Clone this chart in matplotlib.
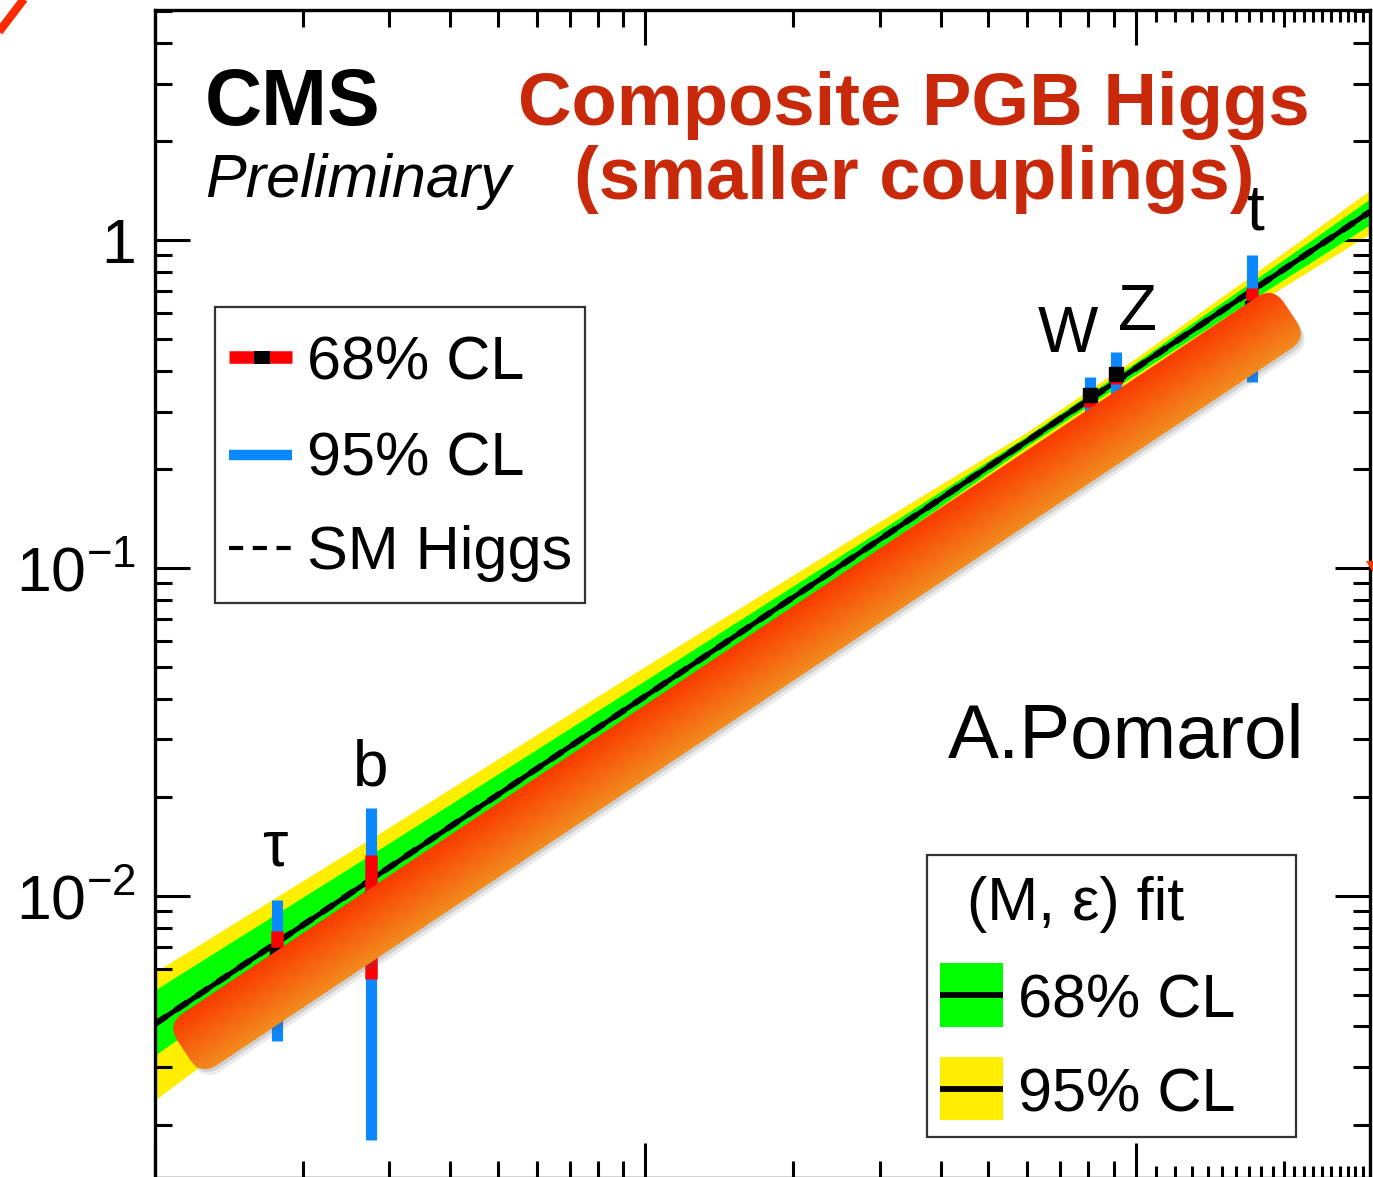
import numpy as np
import matplotlib
matplotlib.use('Agg')
import matplotlib.pyplot as plt
from matplotlib.patches import Rectangle, FancyBboxPatch, Polygon
from matplotlib.transforms import Affine2D
from matplotlib.ticker import FixedLocator, FixedFormatter, NullFormatter

plt.rcParams['font.family'] = ['Liberation Sans', 'DejaVu Sans']
plt.rcParams['mathtext.fontset'] = 'custom'
plt.rcParams['mathtext.rm'] = 'Liberation Sans'
plt.rcParams['mathtext.it'] = 'Liberation Sans:italic'
plt.rcParams['mathtext.bf'] = 'Liberation Sans:bold'

W, H = 1373, 1177

# measured couplings per particle
particles = ['τ', 'b', 'W', 'Z', 't']
masses = [1.777, 2.76, 80.4, 91.2, 172.5]
central = [6.6e-3, 9.8e-3, 0.337, 0.390, 0.62]
lo68 = [6.0e-3, 5.6e-3, 0.31, 0.365, 0.55]
hi68 = [7.8e-3, 1.33e-2, 0.345, 0.40, 0.715]
lo95 = [3.6e-3, 1.8e-3, 0.28, 0.33, 0.37]
hi95 = [9.7e-3, 1.85e-2, 0.382, 0.456, 0.90]

# (M, eps) fit band
band_mass = [1, 3, 10, 30, 60, 100, 200, 300]
fit_central = [4.07e-3, 1.22e-2, 4.07e-2, 0.122, 0.244, 0.407, 0.813, 1.22]
green_lo = [3.27e-3, 1.025e-2, 3.64e-2, 0.1146, 0.2355, 0.390, 0.758, 1.114]
green_hi = [5.17e-3, 1.45e-2, 4.55e-2, 0.130, 0.253, 0.4245, 0.872, 1.336]
yellow_lo = [2.39e-3, 8.1e-3, 3.07e-2, 0.1046, 0.2275, 0.379, 0.721, 1.045]
yellow_hi = [5.86e-3, 1.62e-2, 5.02e-2, 0.1385, 0.260, 0.437, 0.916, 1.42]

# SM Higgs line
sm_mass = [1, 300]
sm_coupling = [4.07e-3, 1.22]

fig = plt.figure(figsize=(13.73, 11.77), dpi=100)
fig.patch.set_facecolor('white')
ax = fig.add_axes([155 / W, -1 / H, (1370 - 155) / W, (1178 - 10) / H])
ax.set_xscale('log')
ax.set_yscale('log')
ax.set_xlim(1, 300)
ax.set_ylim(1.38e-3, 5.03)

ax.fill_between(band_mass, yellow_lo, yellow_hi, color='#FFEE00', lw=0, zorder=1)
ax.fill_between(band_mass, green_lo, green_hi, color='#00FF00', lw=0, zorder=2)
ax.plot(band_mass, fit_central, color='k', lw=3.6, zorder=3)
ax.plot(sm_mass, sm_coupling, color='k', lw=4.4, ls=(0, (2.3, 1.8)), zorder=3)

ax.vlines(masses, lo95, hi95, colors='#0A88FF', lw=8, zorder=4)
ax.vlines(masses, lo68, hi68, colors='#FF0000', lw=9, zorder=5)
ax.plot(masses, central, 's', color='k', ms=10, zorder=6)

for s in ax.spines.values():
    s.set_linewidth(2.4)

ax.xaxis.set_major_locator(FixedLocator([1, 10, 100]))
ax.xaxis.set_minor_locator(FixedLocator([2, 3, 4, 5, 6, 7, 8, 9,
                                         20, 30, 40, 50, 60, 70, 80, 90, 200]))
ax.xaxis.set_major_formatter(NullFormatter())
ax.xaxis.set_minor_formatter(NullFormatter())
ax.yaxis.set_major_locator(FixedLocator([1e-2, 1e-1, 1]))
ax.yaxis.set_major_formatter(FixedFormatter([r'$\mathregular{10^{-2}}$',
                                             r'$\mathregular{10^{-1}}$', '1']))
ax.yaxis.set_minor_locator(FixedLocator(
    [k * 10.0 ** e for e in (-3, -2, -1, 0) for k in range(2, 10)]))
ax.yaxis.set_minor_formatter(NullFormatter())
ax.tick_params(which='major', direction='in', length=25, width=2.2,
               top=True, right=True, labelsize=45, pad=14)
ax.tick_params(which='minor', direction='in', length=12.2, width=2.2,
               top=True, right=True)

# fine ticks above 100 GeV
fine = [110, 120, 130, 140, 150, 160, 170, 180, 190,
        210, 220, 230, 240, 250, 260, 270, 280, 290]
fl = 12 / 1168
ax.vlines(fine, 0, fl, transform=ax.get_xaxis_transform(), colors='k', lw=2.2, clip_on=False)
ax.vlines(fine, 1 - fl, 1, transform=ax.get_xaxis_transform(), colors='k', lw=2.2, clip_on=False)

# overlay in pixel coordinates
ov = fig.add_axes([0, 0, 1, 1])
ov.set_xlim(0, W)
ov.set_ylim(H, 0)
ov.axis('off')

ov.text(205, 125, 'CMS', fontsize=57, fontweight='bold', va='baseline')
ov.text(205, 197, 'Preliminary', fontsize=44, fontstyle='italic', va='baseline')
ov.text(914, 125, 'Composite PGB Higgs', fontsize=53.5, fontweight='bold',
        color='#C8290A', ha='center', va='baseline')
ov.text(914, 199, '(smaller couplings)', fontsize=53.5, fontweight='bold',
        color='#C8290A', ha='center', va='baseline')
ov.text(948, 758, 'A.Pomarol', fontsize=55, va='baseline')

label_pos = [(275, 866), (371, 785), (1068, 352), (1137, 330), (1256, 230)]
for name, (px, py) in zip(particles, label_pos):
    ov.text(px, py, name, fontsize=46, ha='center', va='baseline')

# legend 1
ov.add_patch(Rectangle((215, 307), 370, 296, fc='white', ec='#333333', lw=1.6, zorder=5))
ov.plot([229, 292], [357, 357], color='#FF0000', lw=9, solid_capstyle='butt', zorder=6)
ov.add_patch(Rectangle((254, 350.5), 16, 13, fc='k', ec='none', zorder=7))
ov.plot([229, 292], [455, 455], color='#0A88FF', lw=7.5, solid_capstyle='butt', zorder=6)
ov.plot([229, 292], [548, 548], color='k', lw=3, ls=(0, (3.4, 2.3)), zorder=6)
for txt, yb in [('68% CL', 380), ('95% CL', 476), ('SM Higgs', 569)]:
    ov.text(307, yb, txt, fontsize=44, va='baseline', zorder=7)

# legend 2
ov.add_patch(Rectangle((927, 855), 369, 282, fc='white', ec='#333333', lw=1.6, zorder=5))
ov.text(967, 920, '(M, ε) fit', fontsize=44, va='baseline', zorder=7)
ov.add_patch(Rectangle((940, 963), 63, 64, fc='#00FF00', ec='none', zorder=6))
ov.plot([940, 1003], [995, 995], color='k', lw=4.2, solid_capstyle='butt', zorder=7)
ov.add_patch(Rectangle((940, 1057), 63, 63, fc='#FFEE00', ec='none', zorder=6))
ov.plot([940, 1003], [1089, 1089], color='k', lw=4.2, solid_capstyle='butt', zorder=7)
ov.text(1018, 1018, '68% CL', fontsize=44, va='baseline', zorder=7)
ov.text(1018, 1111, '95% CL', fontsize=44, va='baseline', zorder=7)

# orange highlight bar drawn over the slide
cx, cy, L, Wd, ang = 737, 681, 1330, 62, 33.7
for dx, dy, a in [(2, 3, 0.18), (4, 6, 0.12)]:
    sh = FancyBboxPatch((-L / 2, -Wd / 2), L, Wd, boxstyle='round,pad=0,rounding_size=20',
                        transform=Affine2D().rotate_deg(-ang).translate(cx + dx, cy + dy) + ov.transData,
                        fc='0.35', ec='none', alpha=a, zorder=8)
    ov.add_patch(sh)
tr = Affine2D().rotate_deg(-ang).translate(cx, cy) + ov.transData
bar = FancyBboxPatch((-L / 2, -Wd / 2), L, Wd, boxstyle='round,pad=0,rounding_size=20',
                     transform=tr, fc='none', ec='none', zorder=9)
ov.add_patch(bar)
t = np.linspace(0, 1, 64).reshape(-1, 1, 1)
top_c = np.array([0.98, 0.23, 0.0])
bot_c = np.array([0.95, 0.55, 0.12])
img = top_c * (1 - t) + bot_c * t
img = np.repeat(img, 2, axis=1)
im = ov.imshow(img, extent=(-L / 2, L / 2, -Wd / 2, Wd / 2), origin='lower',
               interpolation='bilinear', aspect='auto', zorder=9)
im.set_transform(tr)
im.set_clip_path(bar)

# red strokes at the edges
ov.plot([-5, 27], [37, -5], color='#FF2A00', lw=6, solid_capstyle='butt')
ov.add_patch(Polygon([(1366, 561), (1374, 561), (1374, 574)], fc='#FF3300', ec='none'))

ov.set_xlim(0, W)
ov.set_ylim(H, 0)

fig.savefig('out.png', dpi=100)
